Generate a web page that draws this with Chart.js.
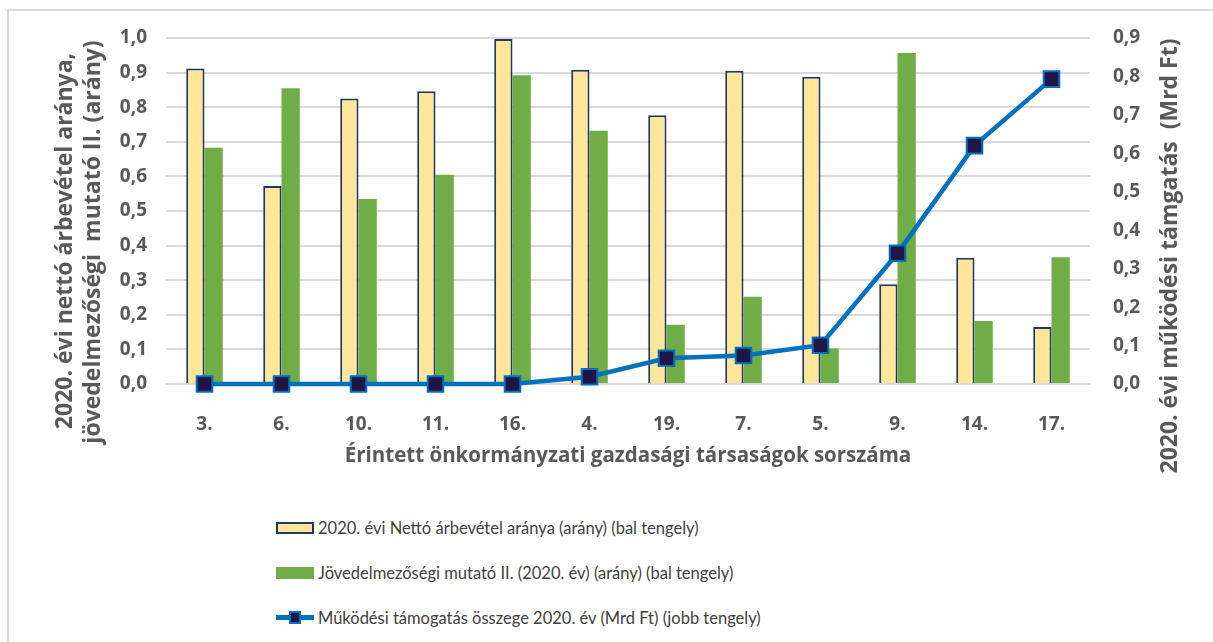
<!DOCTYPE html>
<html>
<head>
<meta charset="utf-8">
<script src="https://cdn.jsdelivr.net/npm/chart.js@4.4.0/dist/chart.umd.min.js"></script>
<style>
  html, body { margin: 0; padding: 0; background: #fff; overflow: hidden; }
  #keret { position: absolute; left: 7px; top: 9px; width: 1240px; height: 680px; border: 2px solid #d9d9d9; }
  #tarolo { position: absolute; left: 0; top: 0; width: 1213px; height: 490px; }
  #jelmagyarazat { position: absolute; left: 276px; top: 505px; font-family: Lato, sans-serif; font-size: 16.5px; color: #404040; }
  .sor { display: flex; align-items: center; height: 45px; white-space: pre; }
  .jel { position: relative; width: 38px; height: 12px; box-sizing: border-box; margin-right: 4px; }
  .vonal { height: 5px; }
  .vonal::after { content: ""; position: absolute; left: 13px; top: -4px; width: 12px; height: 13px; box-sizing: border-box; }
</style>
</head>
<body>
<div id="keret"></div>
<div id="tarolo"><canvas id="chart"></canvas></div>
<div id="jelmagyarazat"></div>
<script>
const kategoriak = ['3.', '6.', '10.', '11.', '16.', '4.', '19.', '7.', '5.', '9.', '14.', '17.'];
const nettoArbevetel = [0.912, 0.572, 0.825, 0.846, 0.997, 0.908, 0.777, 0.905, 0.888, 0.288, 0.365, 0.165];
const jovedelmezoseg = [0.683, 0.855, 0.535, 0.605, 0.892, 0.732, 0.171, 0.252, 0.103, 0.957, 0.182, 0.366];
const tamogatas = [0, 0, 0, 0, 0, 0.019, 0.067, 0.074, 0.101, 0.340, 0.620, 0.793];

const balCim = ['2020. évi nettó árbevétel aránya,', 'jövedelmezőségi  mutató II. (arány)'];
const jobbCim = '2020. évi működési támgatás  (Mrd Ft)';
const xCim = 'Érintett önkormányzati gazdasági társaságok sorszáma';

const szurke = '#595959';
const tickFont = { family: '"Open Sans"', size: 19, weight: 'bold' };
const vesszo = v => v.toFixed(1).replace('.', ',');

// rotated titles read bottom-to-top on both sides
const tengelyCimek = {
  id: 'tengelyCimek',
  afterDraw(chart) {
    const ctx = chart.ctx;
    ctx.save();
    ctx.font = 'bold 23px "Open Sans"';
    ctx.fillStyle = szurke;
    ctx.textAlign = 'center';
    ctx.textBaseline = 'middle';
    const rajz = (t, x, y) => {
      ctx.save();
      ctx.translate(x, y);
      ctx.rotate(-Math.PI / 2);
      ctx.fillText(t, 0, 0);
      ctx.restore();
    };
    rajz(balCim[0], 65, 241);
    rajz(balCim[1], 93, 242);
    rajz(jobbCim, 1170, 256);
    ctx.restore();
  }
};

const chart = new Chart(document.getElementById('chart'), {
  data: {
    labels: kategoriak,
    datasets: [
      {
        type: 'line',
        label: 'Működési támogatás összege 2020. év (Mrd Ft) (jobb tengely)',
        data: tamogatas,
        yAxisID: 'y1',
        borderColor: '#0070C0',
        borderWidth: 4.5,
        pointStyle: 'rect',
        pointRadius: 11,
        pointHoverRadius: 11,
        pointBackgroundColor: '#201547',
        pointBorderColor: '#0070C0',
        pointBorderWidth: 2,
        tension: 0,
        clip: false,
        order: 0
      },
      {
        type: 'bar',
        label: '2020. évi Nettó árbevétel aránya (arány) (bal tengely)',
        data: nettoArbevetel,
        yAxisID: 'y',
        backgroundColor: '#FFE699',
        borderColor: '#1F3864',
        borderWidth: 2,
        categoryPercentage: 0.475,
        barPercentage: 1,
        order: 1
      },
      {
        type: 'bar',
        label: 'Jövedelmezőségi mutató II. (2020. év) (arány) (bal tengely)',
        data: jovedelmezoseg,
        yAxisID: 'y',
        backgroundColor: '#70AD47',
        borderWidth: 0,
        categoryPercentage: 0.475,
        barPercentage: 1,
        order: 2
      }
    ]
  },
  options: {
    responsive: true,
    maintainAspectRatio: false,
    animation: false,
    layout: { padding: { top: 38, left: 0, right: 0, bottom: 0 } },
    plugins: {
      legend: { display: false },
      tooltip: { enabled: true }
    },
    scales: {
      x: {
        grid: { display: false },
        border: { display: false },
        ticks: { font: tickFont, color: szurke, padding: 21 },
        title: {
          display: true,
          text: xCim,
          color: szurke,
          font: { family: '"Open Sans"', size: 20.5, weight: 'bold' },
          padding: { top: 0, bottom: 22 }
        },
        afterFit: s => { s.height = 106; }
      },
      y: {
        position: 'left',
        min: 0,
        max: 1,
        ticks: { stepSize: 0.1, font: tickFont, color: szurke, padding: 19, callback: vesszo },
        grid: { color: '#d9d9d9', lineWidth: 2, drawTicks: false },
        border: { display: false },
        afterFit: s => { s.width = 166; }
      },
      y1: {
        position: 'right',
        min: 0,
        max: 0.9,
        ticks: { stepSize: 0.1, font: tickFont, color: szurke, padding: 23, callback: vesszo },
        grid: { display: false, drawTicks: false },
        border: { display: false },
        afterFit: s => { s.width = 123; }
      }
    }
  },
  plugins: [tengelyCimek]
});

// legend rows built from the datasets (bars first, then the line)
const sorrend = [1, 2, 0];
const jm = document.getElementById('jelmagyarazat');
sorrend.forEach(i => {
  const ds = chart.data.datasets[i];
  const sor = document.createElement('div');
  sor.className = 'sor';
  const jel = document.createElement('span');
  jel.className = 'jel';
  if (ds.type === 'line') {
    jel.classList.add('vonal');
    jel.style.background = ds.borderColor;
    const st = document.createElement('style');
    st.textContent = '.vonal::after{background:' + ds.pointBackgroundColor + ';border:2px solid ' + ds.pointBorderColor + ';}';
    document.head.appendChild(st);
  } else {
    jel.style.background = ds.backgroundColor;
    if (ds.borderWidth) jel.style.border = '2px solid ' + ds.borderColor;
  }
  const szoveg = document.createElement('span');
  szoveg.textContent = ds.label;
  sor.appendChild(jel);
  sor.appendChild(szoveg);
  jm.appendChild(sor);
});
</script>
</body>
</html>
